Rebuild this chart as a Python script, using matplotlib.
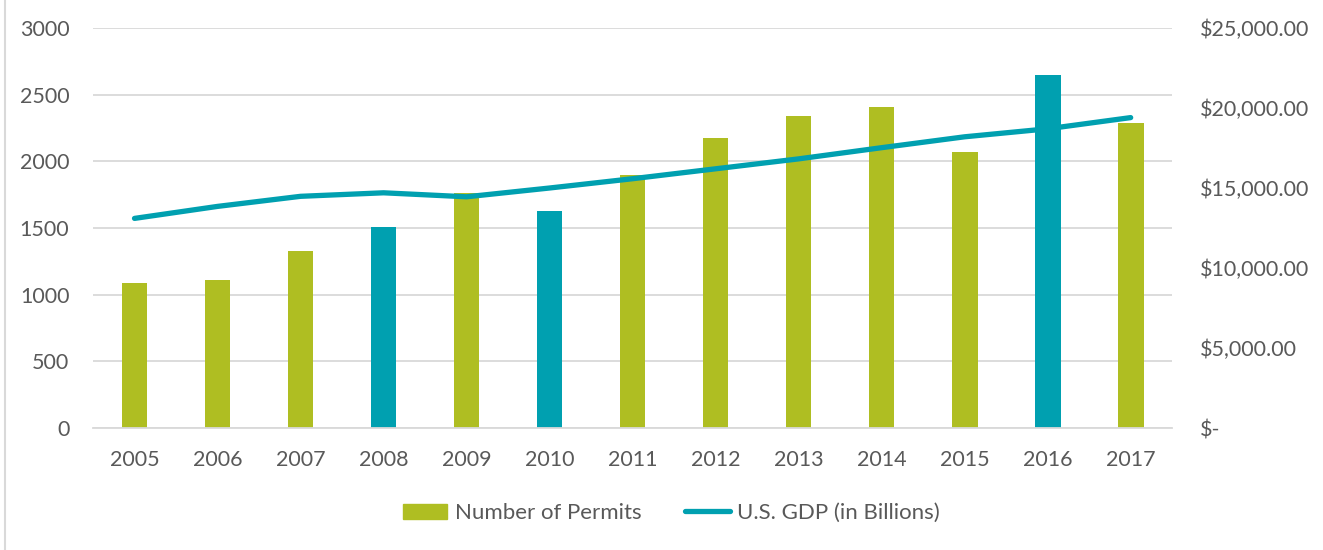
import numpy as np
import matplotlib.pyplot as plt
from matplotlib.lines import Line2D
from matplotlib.patches import Patch
from matplotlib.ticker import FuncFormatter

plt.rcParams['font.family'] = ['Lato', 'DejaVu Sans']

# data
years = ['2005', '2006', '2007', '2008', '2009', '2010', '2011',
         '2012', '2013', '2014', '2015', '2016', '2017']
permits = [1090, 1110, 1330, 1510, 1760, 1630, 1900,
           2175, 2340, 2410, 2070, 2650, 2290]
gdp = [13100, 13850, 14480, 14700, 14450, 15000, 15580,
       16200, 16820, 17520, 18200, 18700, 19400]
highlight = ['2008', '2010', '2016']

green = '#AFBE22'
teal = '#00A0B0'
grid_c = '#D9D9D9'
text_c = '#595959'

fig = plt.figure(figsize=(13.23, 5.5), dpi=100, facecolor='white')
ax = fig.add_axes([0.0703, 0.2218, 0.8157, 0.7273])
ax2 = ax.twinx()

x = np.arange(len(years))
colors = [teal if y in highlight else green for y in years]
ax.bar(x, permits, width=0.31, color=colors, zorder=2)
ax2.plot(x, gdp, color=teal, linewidth=3.8, solid_capstyle='round', zorder=3)

ax.set_xlim(-0.5, len(years) - 0.5)
ax.set_ylim(0, 3000)
ax.set_yticks(np.arange(0, 3001, 500))
ax2.set_ylim(0, 25000)
ax2.set_yticks(np.arange(0, 25001, 5000))

def money(v, pos):
    return '$-' if v == 0 else '${:,.2f}'.format(v)

ax2.yaxis.set_major_formatter(FuncFormatter(money))

ax.set_xticks(x)
ax.set_xticklabels(years)
ax.grid(axis='y', color=grid_c, linewidth=1.3, zorder=0)
ax.set_axisbelow(True)

for a in (ax, ax2):
    for s in a.spines.values():
        s.set_visible(False)
    a.tick_params(length=0, labelsize=15.5, colors=text_c)
ax.spines['bottom'].set_visible(True)
ax.spines['bottom'].set_color(grid_c)
ax.spines['bottom'].set_linewidth(1.3)
ax.tick_params(axis='y', pad=17)
ax.tick_params(axis='x', pad=16)
ax2.tick_params(axis='y', pad=20)

handles = [Patch(color=green), Line2D([0], [0], color=teal, linewidth=3.8, solid_capstyle='round')]
fig.legend(handles, ['Number of Permits', 'U.S. GDP (in Billions)'],
           loc='center', bbox_to_anchor=(0.5076, 0.067), ncol=2, frameon=False,
           fontsize=16, labelcolor=text_c, handlelength=2.0, handletextpad=0.35,
           columnspacing=1.95)

fig.add_artist(Line2D([0.0035, 0.0035], [0, 1], color=grid_c, linewidth=1.5))

fig.savefig('out.png', dpi=100, facecolor='white')
